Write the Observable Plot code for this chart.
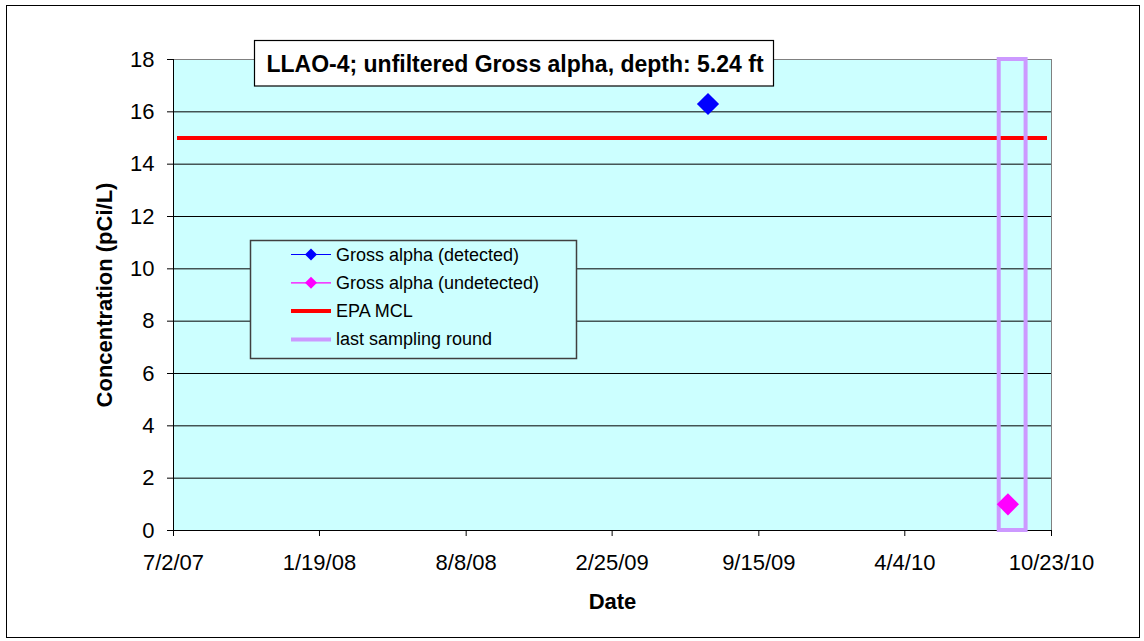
<!DOCTYPE html>
<html>
<head>
<meta charset="utf-8">
<script src="https://cdn.jsdelivr.net/npm/d3@7"></script>
<script src="https://cdn.jsdelivr.net/npm/@observablehq/plot@0.6"></script>
<style>
  html, body { margin: 0; padding: 0; background: white; }
</style>
</head>
<body>
<div id="chart"></div>
<script>
// ---- data ----
const xStartStr = "2007-07-02";
const xEndStr = "2010-10-23";
const xTickDates = ["2007-07-02", "2008-01-19", "2008-08-08", "2009-02-25", "2009-09-15", "2010-04-04", "2010-10-23"];
const yTicks = [0, 2, 4, 6, 8, 10, 12, 14, 16, 18];
const detectedDates = ["2009-07-07"];
const detectedValues = [16.3];
const undetectedDates = ["2010-08-24"];
const undetectedValues = [1.0];
const mclValue = 15;
const lastRoundStartDates = ["2010-08-12"];
const lastRoundEndDates = ["2010-09-18"];
const titleText = "LLAO-4; unfiltered Gross alpha, depth: 5.24 ft";
const legendLabels = ["Gross alpha (detected)", "Gross alpha (undetected)", "EPA MCL", "last sampling round"];

// ---- build ----
const parse = s => new Date(s + "T00:00:00Z");
const xStart = parse(xStartStr), xEnd = parse(xEndStr);
const xTicks = xTickDates.map(parse);
const detected = detectedDates.map((d, i) => ({date: parse(d), value: detectedValues[i]}));
const undetected = undetectedDates.map((d, i) => ({date: parse(d), value: undetectedValues[i]}));
const lastRound = lastRoundStartDates.map((d, i) => ({x1: parse(d), x2: parse(lastRoundEndDates[i])}));
const fmt = d => `${d.getUTCMonth() + 1}/${d.getUTCDate()}/${String(d.getUTCFullYear()).slice(2)}`;
const FONT = "Arial, 'Liberation Sans', sans-serif";

const chart = Plot.plot({
  width: 1144,
  height: 641,
  marginLeft: 173,
  marginRight: 93,
  marginTop: 59,
  marginBottom: 111,
  style: {fontFamily: FONT, fontSize: "22px", background: "white", color: "black", overflow: "visible"},
  x: {type: "utc", domain: [xStart, xEnd]},
  y: {domain: [0, 18]},
  marks: [
    Plot.frame({fill: "#CCFFFF"}),
    Plot.gridY(yTicks.filter(v => v < 18), {stroke: "black", strokeOpacity: 1, strokeWidth: 1}),
    Plot.frame({stroke: "#808080"}),
    Plot.ruleX([xStart], {stroke: "black"}),
    Plot.ruleY([0], {stroke: "black"}),
    Plot.axisY({ticks: yTicks, tickSize: 6, tickPadding: 13, fontSize: 22, label: null}),
    Plot.axisX({ticks: xTicks, tickSize: 6, tickPadding: 18, fontSize: 22, label: null, tickFormat: fmt}),
    Plot.ruleY([mclValue], {stroke: "#FF0000", strokeWidth: 4, insetLeft: 4, insetRight: 4}),
    Plot.rect(lastRound, {x1: "x1", x2: "x2", y1: 0, y2: 18, stroke: "#CC99FF", strokeWidth: 4, fill: "none"}),
    Plot.dot(detected, {x: "date", y: "value", symbol: "diamond2", r: 10, fill: "#0000FF", stroke: "none"}),
    Plot.dot(undetected, {x: "date", y: "value", symbol: "diamond2", r: 10, fill: "#FF00FF", stroke: "none"}),
    Plot.text(["Date"], {frameAnchor: "bottom", dy: 71, lineAnchor: "middle", textAnchor: "middle", fontWeight: "bold", fontSize: 22, fill: "black"}),
    Plot.text(["Concentration (pCi/L)"], {frameAnchor: "left", dx: -69, rotate: -90, textAnchor: "middle", lineAnchor: "middle", fontWeight: "bold", fontSize: 22, fill: "black"})
  ]
});

const svg = d3.select(chart);

// outer border
svg.append("rect")
  .attr("x", 6.5).attr("y", 5.5).attr("width", 1133).attr("height", 632)
  .attr("fill", "none").attr("stroke", "black").attr("stroke-width", 1);

// title box
const tg = svg.append("g");
tg.append("rect")
  .attr("x", 254.5).attr("y", 40.5).attr("width", 519).attr("height", 45.5)
  .attr("fill", "white").attr("stroke", "black").attr("stroke-width", 1.2);
tg.append("text")
  .attr("x", 515).attr("y", 72)
  .attr("text-anchor", "middle")
  .attr("font-family", FONT).attr("font-weight", "bold").attr("font-size", 23)
  .attr("fill", "black")
  .text(titleText);

// legend
const lg = svg.append("g");
lg.append("rect")
  .attr("x", 250.5).attr("y", 240.5).attr("width", 326).attr("height", 118)
  .attr("fill", "#CCFFFF").attr("stroke", "#404040").attr("stroke-width", 1.5);
const legendStyles = [
  {color: "#0000FF", width: 1.2, marker: true},
  {color: "#FF00FF", width: 1.2, marker: true},
  {color: "#FF0000", width: 4, marker: false},
  {color: "#CC99FF", width: 4, marker: false}
];
const diamond = d3.symbol(d3.symbolDiamond2, 92)();
legendLabels.forEach((label, i) => {
  const y = 254.5 + i * 28.3;
  const s = legendStyles[i];
  lg.append("line")
    .attr("x1", 291).attr("x2", 331).attr("y1", y).attr("y2", y)
    .attr("stroke", s.color).attr("stroke-width", s.width);
  if (s.marker) {
    lg.append("path").attr("d", diamond)
      .attr("transform", `translate(311,${y})`)
      .attr("fill", s.color);
  }
  lg.append("text")
    .attr("x", 336).attr("y", y + 6)
    .attr("text-anchor", "start")
    .attr("font-family", FONT).attr("font-size", 18)
    .attr("fill", "black")
    .text(label);
});

document.getElementById("chart").appendChild(chart);
</script>
</body>
</html>
